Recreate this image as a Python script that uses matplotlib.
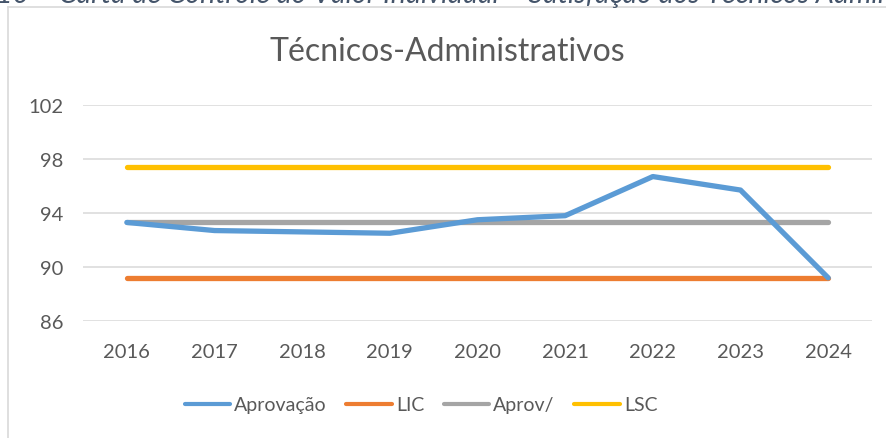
import matplotlib
matplotlib.use("Agg")
import matplotlib.pyplot as plt
from matplotlib.lines import Line2D

years = ["2016", "2017", "2018", "2019", "2020", "2021", "2022", "2023", "2024"]
aprovacao = [93.3, 92.7, 92.6, 92.5, 93.5, 93.8, 96.7, 95.7, 89.2]
lic = [89.2] * 9
aprov_media = [93.3] * 9
lsc = [97.4] * 9
y_ticks = [86, 90, 94, 98, 102]

W, H = 887, 439
fig = plt.figure(figsize=(W / 100, H / 100), dpi=100)
plt.rcParams['font.family'] = ['Lato', 'DejaVu Sans']
TXT = '#595959'

def fx(px):
    return px / W

def fy(py):
    return 1 - py / H

# caption above the chart (cut off at the top edge, as in the reference)
fig.text(fx(-4), fy(3), "10 – Carta de Controle do Valor Individual – Satisfação dos Técnicos Administrativos",
         fontsize=20.5, style='italic', color='#44546A', va='baseline', ha='left')

# chart frame (left and top borders visible)
fig.add_artist(Line2D([fx(8.5), fx(8.5)], [fy(8), -0.1], color='#D9D9D9', lw=1.2, transform=fig.transFigure))
fig.add_artist(Line2D([fx(8.5), 1.1], [fy(8), fy(8)], color='#D9D9D9', lw=1.2, transform=fig.transFigure))

left, right, top, bottom = 83, 872, 106, 322
ax = fig.add_axes([fx(left), fy(bottom), fx(right - left), (bottom - top) / H])

x = list(range(len(years)))
lw = 3.8
l1, = ax.plot(x, aprovacao, color='#5B9BD5', lw=lw, solid_capstyle='round', solid_joinstyle='round', label='Aprovação', zorder=5)
l2, = ax.plot(x, lic, color='#ED7D31', lw=lw, solid_capstyle='round', label='LIC', zorder=3)
l3, = ax.plot(x, aprov_media, color='#A5A5A5', lw=lw, solid_capstyle='round', label='Aprov/', zorder=4)
l4, = ax.plot(x, lsc, color='#FFC000', lw=lw, solid_capstyle='round', label='LSC', zorder=3)

ax.set_xlim(-0.5, len(years) - 0.5)
ax.set_ylim(86, 102)
ax.set_yticks(y_ticks)
ax.set_xticks(x)
ax.set_xticklabels(years)
ax.grid(axis='y', color='#D9D9D9', lw=1.1)
ax.set_axisbelow(True)
for s in ax.spines.values():
    s.set_visible(False)
ax.tick_params(length=0, labelsize=14.5, labelcolor=TXT)
ax.tick_params(axis='y', pad=14)
ax.tick_params(axis='x', pad=16)

fig.text(fx(447), fy(52), "Técnicos-Administrativos", fontsize=23, color=TXT, ha='center', va='center')

leg_handles = [Line2D([], [], color=h.get_color(), lw=3.0, solid_capstyle='round') for h in (l1, l2, l3, l4)]
leg = fig.legend(leg_handles, [h.get_label() for h in (l1, l2, l3, l4)], loc='center',
                 bbox_to_anchor=(fx(421), fy(406)),
                 ncol=4, frameon=False, fontsize=14, handlelength=2.35, handletextpad=0.2,
                 columnspacing=1.0, labelcolor=TXT)

fig.savefig("out.png", dpi=100, facecolor='white')
